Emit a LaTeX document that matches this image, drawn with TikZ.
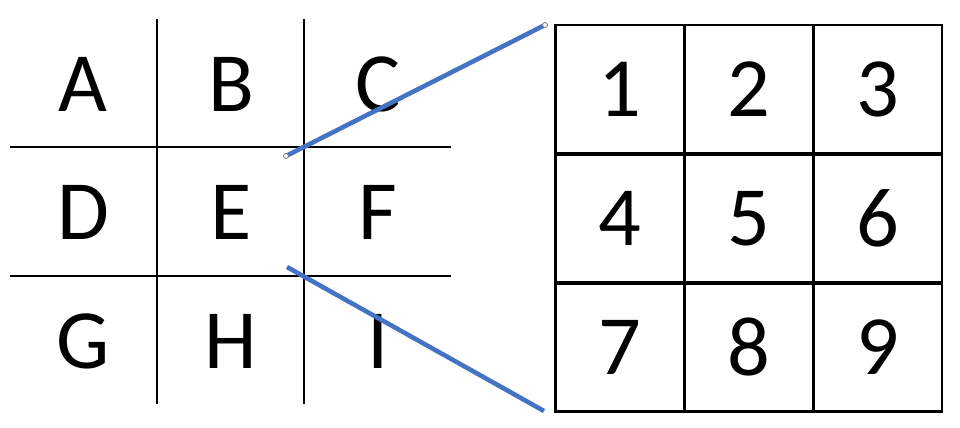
\documentclass[tikz,border=0pt]{standalone}
\usepackage{fontspec}
\setmainfont{Carlito}
\usepackage{tikz}
\usetikzlibrary{positioning}

\definecolor{zoomblue}{HTML}{4472C4}

\tikzset{
  letter/.style={inner sep=0pt, font=\fontsize{48}{58}\selectfont},
  cell/.style={draw, line width=1.7pt, minimum size=2.58cm, inner sep=0pt,
    font=\fontsize{48}{58}\selectfont},
  zoomline/.style={zoomblue, line width=2.6pt},
  handle/.style={draw=gray, fill=white, line width=0.5pt}
}

\begin{document}
\begin{tikzpicture}[x=0.02cm,y=-0.02cm]

    \useasboundingbox (0,0) rectangle (960,428);

    % left grid
    \draw[line width=1.7pt] (157,19) -- (157,404);
    \draw[line width=1.7pt] (304,19) -- (304,404);
    \draw[line width=1.7pt] (10,147) -- (451,147);
    \draw[line width=1.7pt] (10,276) -- (451,276);

    \node[letter] (A) at (83,84) {A};
    \node[letter] (B) at (231,84) {B};
    \node[letter] (C) at (378,84) {C};
    \node[letter] (D) at (83,212) {D};
    \node[letter] (E) at (231,212) {E};
    \node[letter] (F) at (378,212) {F};
    \node[letter] (G) at (83,341) {G};
    \node[letter] (H) at (231,341) {H};
    \node[letter] (I) at (378,341) {I};

    % right grid
    \node[cell] (n1) at (619.5,89.5) {1};
    \node[cell] (n2) at (748.5,89.5) {2};
    \node[cell] (n3) at (877.5,89.5) {3};
    \node[cell] (n4) at (619.5,218.5) {4};
    \node[cell] (n5) at (748.5,218.5) {5};
    \node[cell] (n6) at (877.5,218.5) {6};
    \node[cell] (n7) at (619.5,347.5) {7};
    \node[cell] (n8) at (748.5,347.5) {8};
    \node[cell] (n9) at (877.5,347.5) {9};

    % zoom lines
    \coordinate (top0) at (286,156);
    \coordinate (top1) at (545,25);
    \coordinate (bot0) at (287,267);
    \coordinate (bot1) at (544,411);

    \draw[zoomline] (top0) -- (top1);
    \draw[zoomline] (bot0) -- (bot1);

    \draw[handle] (top0) circle (2.5);
    \draw[handle] (top1) circle (2.5);

  \end{tikzpicture}
\end{document}
